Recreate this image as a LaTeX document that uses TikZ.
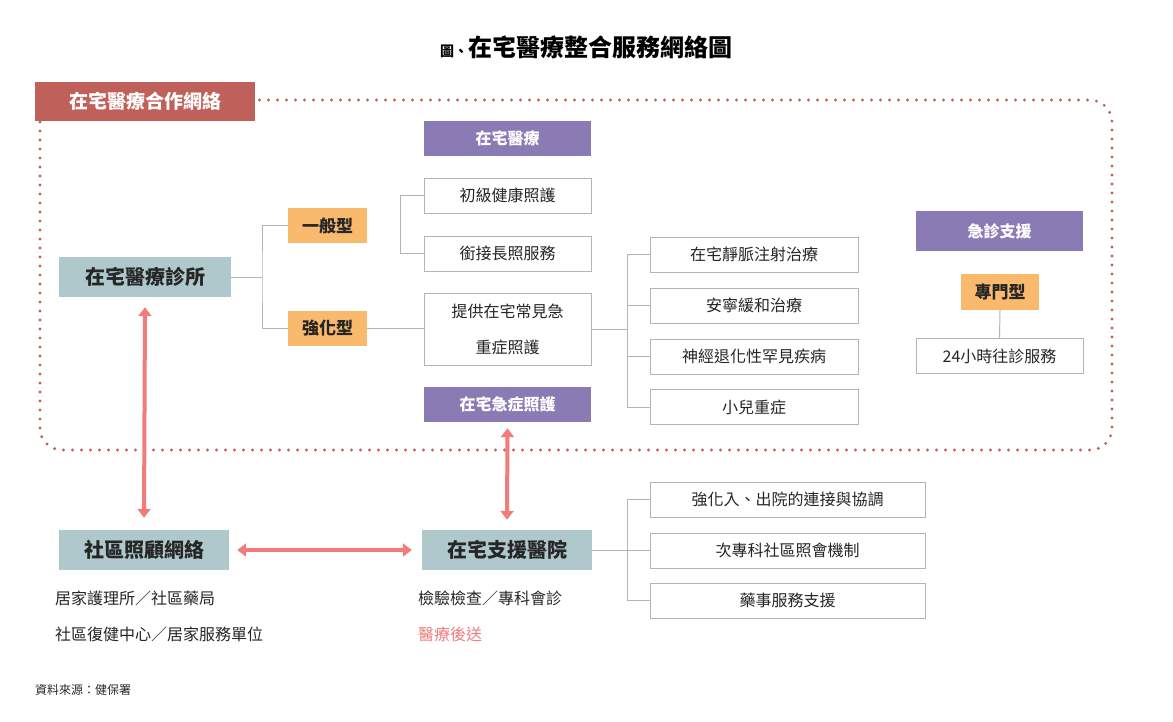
\documentclass[tikz,border=0pt]{standalone}
\usepackage{fontspec}
\setmainfont{Noto Sans CJK TC}
\newfontfamily\cjkb[BoldFont={Noto Sans CJK TC Bold}]{Noto Sans CJK TC}
\usetikzlibrary{arrows.meta}
\definecolor{rose}{RGB}{192,96,90}
\definecolor{purp}{RGB}{139,123,181}
\definecolor{oran}{RGB}{249,186,110}
\definecolor{teal}{RGB}{175,200,204}
\definecolor{pinkar}{RGB}{240,124,124}
\definecolor{ln}{RGB}{180,180,180}
\begin{document}
\begin{tikzpicture}[x=1pt,y=-1pt,
  box/.style={draw=ln,line width=0.8pt,fill=white,minimum width=167pt,minimum height=35pt,inner sep=0pt,font=\fontsize{16}{18}\selectfont,text=black!85},
  pbox/.style={fill=purp,minimum width=167pt,minimum height=35pt,inner sep=0pt,font=\fontsize{16}{18}\selectfont\bfseries,text=white},
  obox/.style={fill=oran,minimum width=79pt,minimum height=35pt,inner sep=0pt,font=\fontsize{17}{19}\selectfont\bfseries,text=black!85},
  tbox/.style={fill=teal,minimum width=172pt,minimum height=40pt,inner sep=0pt,font=\fontsize{20}{22}\selectfont\bfseries,text=black!85},
  con/.style={draw=ln,line width=1pt},
  arr/.style={draw=pinkar,line width=4pt,{Triangle[length=9pt,width=13pt]}-{Triangle[length=9pt,width=13pt]}},
  plain/.style={anchor=west,inner sep=0pt,font=\fontsize{16}{18}\selectfont,text=black!85}]
\useasboundingbox (0,0) rectangle (1173,721);
\node (title) at (586,47) {\fontsize{14}{16}\selectfont\bfseries 圖、\fontsize{24}{26}\selectfont 在宅醫療整合服務網絡圖};
\draw[rose,line width=3.2pt,dash pattern=on 0pt off 9pt,line cap=round,rounded corners=22pt] (40,100) rectangle (1112,450);
\node[fill=rose,text=white,minimum width=220pt,minimum height=39pt,inner sep=0pt,font=\fontsize{19}{21}\selectfont\bfseries] (net) at (145,101.5) {在宅醫療合作網絡};

\node[pbox] (hm) at (507.5,138.5) {在宅醫療};
\node[box] (b1) at (507.5,195.5) {初級健康照護};
\node[box] (b2) at (507.5,253.5) {銜接長照服務};
\node[obox] (o1) at (327.5,225.5) {一般型};
\node[obox] (o2) at (327.5,328.5) {強化型};
\node[tbox] (clinic) at (145,277) {在宅醫療診所};
\node[box,minimum height=72pt,align=center,font=\fontsize{16}{36}\selectfont] (b3) at (507.5,329) {提供在宅常見急\\重症照護};
\node[box,minimum width=208pt] (r1) at (754,254.5) {在宅靜脈注射治療};
\node[box,minimum width=208pt] (r2) at (754,305.5) {安寧緩和治療};
\node[box,minimum width=208pt] (r3) at (754,356.5) {神經退化性罕見疾病};
\node[box,minimum width=208pt] (r4) at (754,407) {小兒重症};
\node[pbox] (acute) at (507.5,404.5) {在宅急症照護};
\node[pbox,minimum height=40pt] (er) at (999.5,231) {急診支援};
\node[obox,minimum width=78pt,minimum height=36pt] (o3) at (1000,292) {專門型};
\node[box] (b24) at (999.5,356) {24小時往診服務};

\node[tbox,minimum width=170pt] (comm) at (144,550) {社區照顧網絡};
\node[tbox,minimum width=170pt] (hosp) at (507,550) {在宅支援醫院};
\node[box,minimum width=275pt] (s1) at (787.5,499.5) {強化入、出院的連接與協調};
\node[box,minimum width=275pt] (s2) at (787.5,550.5) {次專科社區照會機制};
\node[box,minimum width=275pt] (s3) at (787.5,600.5) {藥事服務支援};

\node[plain] (t1) at (55,598) {居家護理所／社區藥局};
\node[plain] (t2) at (55,634) {社區復健中心／居家服務單位};
\node[plain] (t3) at (418,598) {檢驗檢查／專科會診};
\node[plain,text=pinkar] (t4) at (418,634) {醫療後送};
\node[plain,font=\fontsize{12}{14}\selectfont] (src) at (35,690) {資料來源：健保署};

% connectors
\draw[con] (clinic.east) -- (262,277);
\draw[con] (o1.west) -| (262,277) |- (o2.west);
\draw[con] (b1.west) -- (400,195.5) -- (400,253.5) -- (b2.west);
\draw[con] (o2.east) -- (b3.west |- o2.east);
\draw[con] (b3.east) -- (627,329);
\draw[con] (r1.west) -- (627,254.5) -- (627,407) -- (r4.west);
\draw[con] (r2.west) -- (627,305.5);
\draw[con] (r3.west) -- (627,356.5);
\draw[con] (o3.south) -- (b24.north);
\draw[con] (hosp.east) -- (627,550);
\draw[con] (s1.west) -- (627,499.5) -- (627,600.5) -- (s3.west);
\draw[con] (s2.west) -- (627,550.5);

\draw[arr] ([yshift=-10pt]clinic.south) -- ([yshift=12pt]comm.north);
\draw[arr] ([yshift=-6pt]acute.south) -- ([yshift=10pt]hosp.north);
\draw[arr] ([xshift=8pt]comm.east) -- ([xshift=-10pt]hosp.west);
\end{tikzpicture}
\end{document}
